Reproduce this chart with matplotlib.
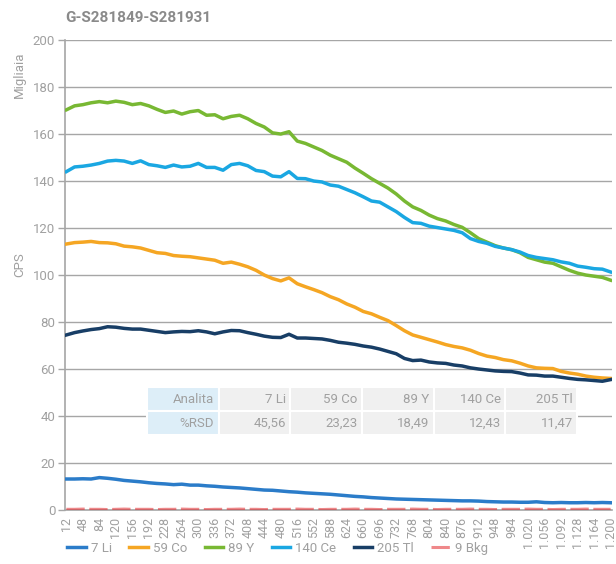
"""Line chart of CPS vs time for six analytes with an inline %RSD table."""

import matplotlib

matplotlib.use("Agg")
import matplotlib.pyplot as plt
import numpy as np
from matplotlib.ticker import FuncFormatter

plt.rcParams["font.family"] = ["Roboto", "DejaVu Sans"]

# Time axis (every 18 units, ticks every 36)
x_vals = list(range(12, 1201, 18))
x_ticks = list(range(12, 1201, 36))

li_7 = [13.2, 13.2, 13.3, 13.2, 13.8, 13.5, 13.1, 12.6, 12.3, 12.0, 11.6, 11.3,
        11.1, 10.8, 11.0, 10.6, 10.6, 10.3, 10.1, 9.8, 9.6, 9.4, 9.1, 8.8, 8.5,
        8.4, 8.1, 7.8, 7.6, 7.3, 7.1, 6.9, 6.7, 6.4, 6.1, 5.8, 5.6, 5.3, 5.1,
        4.9, 4.7, 4.6, 4.5, 4.4, 4.3, 4.2, 4.1, 4.0, 3.9, 3.9, 3.8, 3.6, 3.5,
        3.4, 3.4, 3.3, 3.3, 3.5, 3.2, 3.1, 3.2, 3.1, 3.1, 3.2, 3.1, 3.2, 3.1]
co_59 = [113.2, 113.8, 114.0, 114.3, 113.8, 113.7, 113.3, 112.3, 112.0, 111.5,
         110.5, 109.5, 109.2, 108.3, 108.0, 107.8, 107.3, 106.8, 106.3, 105.0,
         105.5, 104.6, 103.5, 102.0, 100.0, 98.5, 97.5, 98.8, 96.3, 95.0, 93.8,
         92.5, 90.8, 89.5, 87.7, 86.3, 84.5, 83.5, 82.0, 80.6, 78.5, 76.3, 74.5,
         73.5, 72.5, 71.5, 70.4, 69.6, 69.0, 68.0, 66.6, 65.5, 64.9, 64.0, 63.5,
         62.5, 61.3, 60.5, 60.3, 60.2, 59.0, 58.3, 57.8, 57.0, 56.5, 56.2, 56.0]
y_89 = [170.3, 172.0, 172.5, 173.3, 173.8, 173.3, 174.0, 173.5, 172.5, 173.0,
        172.0, 170.5, 169.2, 169.8, 168.5, 169.5, 170.0, 168.0, 168.2, 166.5,
        167.5, 168.0, 166.5, 164.5, 163.0, 160.5, 160.0, 161.0, 157.0, 156.0,
        154.5, 153.0, 151.0, 149.5, 148.0, 145.5, 143.3, 141.0, 139.0, 137.0,
        134.5, 131.5, 129.0, 127.5, 125.5, 124.0, 123.0, 121.5, 120.3, 118.0,
        115.5, 114.0, 112.5, 111.5, 110.8, 109.5, 107.5, 106.5, 105.5, 105.0,
        103.5, 102.0, 100.8, 100.0, 99.5, 99.0, 97.8]
ce_140 = [144.0, 146.0, 146.3, 146.8, 147.5, 148.5, 148.8, 148.5, 147.5, 148.6,
          147.0, 146.5, 145.8, 146.8, 146.0, 146.3, 147.5, 145.8, 145.8, 144.6,
          147.0, 147.5, 146.5, 144.5, 144.0, 142.1, 141.8, 144.0, 141.1, 141.0,
          140.0, 139.6, 138.3, 137.8, 136.4, 135.0, 133.3, 131.5, 131.0, 129.0,
          127.0, 124.5, 122.3, 122.0, 120.8, 120.2, 119.6, 119.0, 118.0, 115.5,
          114.3, 113.5, 112.2, 111.5, 110.8, 109.8, 108.3, 107.5, 107.0, 106.5,
          105.6, 105.0, 103.8, 103.3, 102.7, 102.5, 101.3]
tl_205 = [74.5, 75.5, 76.2, 76.8, 77.2, 78.0, 77.8, 77.3, 77.0, 77.0, 76.5, 76.0,
          75.5, 75.8, 76.0, 75.9, 76.3, 75.8, 75.0, 75.8, 76.4, 76.3, 75.5, 74.8,
          74.0, 73.5, 73.4, 74.8, 73.2, 73.2, 73.0, 72.8, 72.2, 71.4, 71.0, 70.5,
          69.8, 69.3, 68.5, 67.5, 66.5, 64.5, 63.6, 63.8, 63.0, 62.6, 62.4, 61.7,
          61.3, 60.5, 60.0, 59.6, 59.2, 59.0, 58.9, 58.3, 57.5, 57.4, 57.0, 57.0,
          56.5, 56.0, 55.6, 55.4, 55.1, 54.8, 55.5]
bkg_9 = [0.3, 0.3, 0.4, 0.3, 0.3, 0.2, 0.3, 0.4, 0.3, 0.3, 0.3, 0.2, 0.3, 0.3,
         0.4, 0.3, 0.3, 0.2, 0.3, 0.3, 0.3, 0.4, 0.3, 0.3, 0.2, 0.3, 0.3, 0.3,
         0.4, 0.3, 0.3, 0.2, 0.3, 0.3, 0.3, 0.4, 0.3, 0.3, 0.2, 0.3, 0.3, 0.3,
         0.4, 0.3, 0.3, 0.2, 0.3, 0.3, 0.3, 0.4, 0.3, 0.3, 0.2, 0.3, 0.3, 0.3,
         0.4, 0.3, 0.3, 0.2, 0.3, 0.3, 0.3, 0.4, 0.3, 0.3, 0.3]

series_names = ["7 Li", "59 Co", "89 Y", "140 Ce", "205 Tl", "9 Bkg"]
series_colors = ["#2b7cc9", "#f5a623", "#78b833", "#1aa7e2", "#183e66", "#e3262b"]

# %RSD table
table_header = ["Analita", "7 Li", "59 Co", "89 Y", "140 Ce", "205 Tl"]
table_rsd = ["%RSD", "45,56", "23,23", "18,49", "12,43", "11,47"]

GRAY = "#a6a6a6"
TEXT = "#a0a0a0"

fig = plt.figure(figsize=(6.16, 5.64), dpi=100)
ax = fig.add_axes([0.1055, 0.0957, 0.888, 0.8333])

all_series = [li_7, co_59, y_89, ce_140, tl_205, bkg_9]
for name, vals, color in zip(series_names, all_series, series_colors):
    if name == "9 Bkg":
        ax.plot(x_vals, vals, color=color, lw=2.2, alpha=0.55,
                dashes=(6, 1.5), label=name, zorder=3)
    else:
        ax.plot(x_vals, vals, color=color, lw=2.5, label=name, zorder=3,
                solid_joinstyle="round")

ax.set_xlim(12 - 3, 1200 + 3)
ax.set_ylim(0, 200)
ax.set_yticks(range(0, 201, 20))
ax.set_xticks(x_ticks)
ax.xaxis.set_major_formatter(
    FuncFormatter(lambda v, _: f"{int(round(v)):,}".replace(",", "."))
)
ax.tick_params(axis="x", rotation=90, labelsize=9, colors=TEXT, length=0, pad=5)
ax.tick_params(axis="y", labelsize=9.5, colors=TEXT, length=5, width=1,
               pad=2)
ax.tick_params(axis="y", which="major", color=GRAY)
ax.grid(axis="y", color=GRAY, lw=1)
ax.set_axisbelow(True)
for side in ["top", "right"]:
    ax.spines[side].set_visible(False)
for side in ["left", "bottom"]:
    ax.spines[side].set_color(GRAY)
    ax.spines[side].set_linewidth(1.2)

fig.text(0.032, 0.867, "Migliaia", rotation=90, color=TEXT, fontsize=9.5,
         ha="center", va="center")
fig.text(0.032, 0.53, "CPS", rotation=90, color=TEXT, fontsize=9.5,
         ha="center", va="center")
fig.text(0.1055, 0.968, "G-S281849-S281931", color="#8a8a8a", fontsize=11,
         fontweight="bold", ha="left", va="center")

# Inline %RSD table
tbl = ax.table(
    cellText=[table_header, table_rsd],
    cellLoc="right",
    bbox=[(147 - 65) / 547, (510 - 435) / 470, (577 - 147) / 547, 48 / 470],
)
tbl.auto_set_font_size(False)
for (r, c), cell in tbl.get_celld().items():
    cell.set_edgecolor("white")
    cell.set_linewidth(1.5)
    cell.set_facecolor("#ddeef8" if c == 0 else "#f0f0f0")
    cell.get_text().set_color(TEXT)
    cell.get_text().set_fontsize(9.5)
    cell.PAD = 0.06
tbl.set_zorder(5)

handles, labels = ax.get_legend_handles_labels()
fig.legend(handles, labels, loc="lower left", bbox_to_anchor=(0.09, -0.005),
           ncol=6, frameon=False, fontsize=9.5, handlelength=1.4,
           handletextpad=0.4, columnspacing=1.3, labelcolor=TEXT)

fig.savefig("out.png", dpi=100)
